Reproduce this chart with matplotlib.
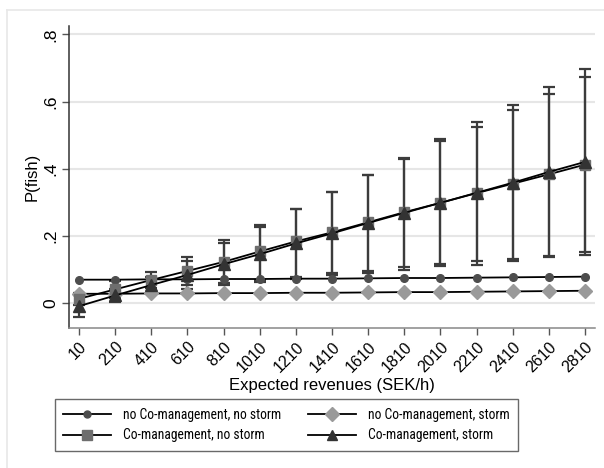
import matplotlib
matplotlib.use("Agg")
import matplotlib.pyplot as plt
from matplotlib.lines import Line2D
from matplotlib import font_manager
import numpy as np

plt.rcParams['font.family'] = ['Liberation Sans', 'DejaVu Sans']
_names = {f.name for f in font_manager.fontManager.ttflist}
if 'Roboto Condensed' in _names:
    legend_prop = {'family': ['Roboto Condensed', 'Liberation Sans'], 'size': 9.8}
else:
    legend_prop = {'family': ['Liberation Sans'], 'size': 8.0}

revenues = [10, 210, 410, 610, 810, 1010, 1210, 1410, 1610, 1810, 2010, 2210, 2410, 2610, 2810]
xtick_labels = [str(v) for v in revenues]

nocm_nostorm = [0.069, 0.069, 0.070, 0.070, 0.071, 0.071, 0.072, 0.072, 0.073, 0.074, 0.074, 0.075, 0.076, 0.077, 0.078]
nocm_storm = [0.027, 0.027, 0.028, 0.028, 0.029, 0.029, 0.030, 0.030, 0.031, 0.032, 0.032, 0.033, 0.034, 0.035, 0.036]

cm_nostorm = [0.012, 0.040, 0.068, 0.095, 0.122, 0.153, 0.183, 0.210, 0.240, 0.270, 0.298, 0.327, 0.355, 0.383, 0.412]
cm_nostorm_lo = [-0.005, 0.015, 0.043, 0.052, 0.058, 0.067, 0.076, 0.090, 0.096, 0.107, 0.117, 0.126, 0.132, 0.140, 0.151]
cm_nostorm_hi = [0.030, 0.065, 0.093, 0.138, 0.186, 0.232, 0.281, 0.331, 0.382, 0.432, 0.481, 0.524, 0.574, 0.622, 0.672]

cm_storm = [-0.010, 0.022, 0.053, 0.083, 0.115, 0.145, 0.177, 0.207, 0.238, 0.268, 0.298, 0.328, 0.358, 0.390, 0.420]
cm_storm_lo = [-0.043, 0.003, 0.030, 0.040, 0.052, 0.062, 0.072, 0.083, 0.090, 0.098, 0.110, 0.114, 0.124, 0.136, 0.143]
cm_storm_hi = [0.023, 0.041, 0.076, 0.126, 0.178, 0.226, 0.279, 0.329, 0.380, 0.429, 0.487, 0.538, 0.590, 0.644, 0.696]

labels = ["no Co-management, no storm", "no Co-management, storm",
          "Co-management, no storm", "Co-management, storm"]

W, H = 604, 468
fig = plt.figure(figsize=(W / 100, H / 100), dpi=100)
fig.patch.set_facecolor('white')

# outer light frame (Stata graph region)
fig.add_artist(Line2D([7 / W, 7 / W], [0, 1 - 10 / H], transform=fig.transFigure, color='#e8e8e8', lw=1.2))
fig.add_artist(Line2D([7 / W, 1], [1 - 10 / H, 1 - 10 / H], transform=fig.transFigure, color='#e8e8e8', lw=1.2))

ax = fig.add_axes([69 / W, 1 - 328 / H, (595 - 69) / W, (328 - 26) / H])
x = np.array(revenues)

ecol = '#3c3c3c'
for y, lo, hi in [(cm_nostorm, cm_nostorm_lo, cm_nostorm_hi), (cm_storm, cm_storm_lo, cm_storm_hi)]:
    y = np.array(y)
    yerr = np.vstack([y - np.array(lo), np.array(hi) - y])
    ax.errorbar(x, y, yerr=yerr, fmt='none', ecolor=ecol, elinewidth=1.6, capsize=4, capthick=1.6, zorder=2)

ax.plot(x, nocm_nostorm, '-', color='black', lw=1.3, marker='o', ms=5.5, mfc='#4d4d4d', mec='#4d4d4d', zorder=3)
ax.plot(x, nocm_storm, '-', color='black', lw=1.3, marker='D', ms=7.5, mfc='#9a9a9a', mec='#9a9a9a', zorder=3)
ax.plot(x, cm_nostorm, '-', color='black', lw=1.3, marker='s', ms=7.5, mfc='#6e6e6e', mec='#6e6e6e', zorder=3)
ax.plot(x, cm_storm, '-', color='black', lw=1.3, marker='^', ms=8, mfc='#333333', mec='#333333', zorder=4)

ax.set_xlim(10 - 55, 2810 + 55)
ax.set_ylim(-0.075, 0.825)
ax.set_xticks(revenues)
ax.set_xticklabels(xtick_labels, rotation=45, ha='right', rotation_mode='anchor', fontsize=11.5)
ax.set_yticks([0, 0.2, 0.4, 0.6, 0.8])
ax.set_yticklabels(['0', '.2', '.4', '.6', '.8'], rotation=90, va='center', fontsize=12.5)
ax.yaxis.grid(True, color='#e6e6e6', lw=1.5)
ax.set_axisbelow(True)
for s in ['top', 'right']:
    ax.spines[s].set_visible(False)
ax.spines['left'].set_color('#333333')
ax.spines['bottom'].set_color('#888888')
ax.spines['left'].set_linewidth(1.1)
ax.spines['bottom'].set_linewidth(1.1)
ax.tick_params(axis='both', direction='out', length=5, color='#555555', width=1)
ax.tick_params(axis='y', pad=3)
ax.tick_params(axis='x', pad=3)

ax.set_xlabel('Expected revenues (SEK/h)', fontsize=12, labelpad=2)
ax.set_ylabel('P(fish)', fontsize=12, labelpad=2)

handles = [
    Line2D([], [], color='black', lw=1.3, marker='o', ms=5, mfc='#4d4d4d', mec='#4d4d4d'),
    Line2D([], [], color='black', lw=1.3, marker='s', ms=7, mfc='#6e6e6e', mec='#6e6e6e'),
    Line2D([], [], color='black', lw=1.3, marker='D', ms=7, mfc='#9a9a9a', mec='#9a9a9a'),
    Line2D([], [], color='black', lw=1.3, marker='^', ms=7, mfc='#333333', mec='#333333'),
]
leg_labels = [labels[0], labels[2], labels[1], labels[3]]
leg = fig.legend(handles, leg_labels, ncol=2, loc='center',
                 bbox_to_anchor=((64 + 509) / 2 / W, 1 - 425 / H), bbox_transform=fig.transFigure,
                 prop=legend_prop, frameon=True, fancybox=False, edgecolor='#444444',
                 handlelength=3.5, columnspacing=2.0, handletextpad=0.9, borderpad=0.6, labelspacing=0.5)
leg.get_frame().set_linewidth(1.0)

fig.savefig('out.png', dpi=100, facecolor='white')
